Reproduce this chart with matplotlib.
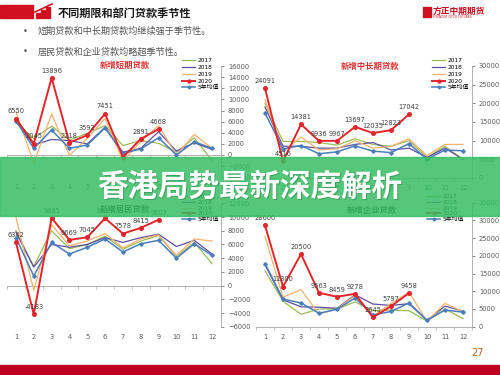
import matplotlib
matplotlib.use("Agg")
import matplotlib.pyplot as plt
from matplotlib.patches import Rectangle

plt.rcParams['font.family'] = ['DejaVu Sans', 'Noto Sans CJK SC']

W, H = 500, 375

months = list(range(1, 13))
series_names = ['2017', '2018', '2019', '2020', '5年均值']

# 新增短期贷款
short_2017 = [5800, 3000, 5200, 2700, 3900, 5300, 1700, 2600, 2100, 500, 3100, -1000]
short_2018 = [6200, 1800, 2800, 2600, 2000, 5000, 500, 1200, 4200, 700, 2200, 1000]
short_2019 = [7800, -1500, 7400, -100, 3000, 6600, -1100, 2400, 5300, 0, 3700, 1200]
short_2020 = [6550, 2045, 13896, 2218, 3592, 7451, -400, 2891, 4668]
short_avg = [6200, 1200, 4500, 1200, 1800, 4900, 300, 1100, 3100, 0, 2400, 1200]

# 新增中长期贷款
long_2017 = [20000, 9800, 9800, 9500, 8800, 10500, 9000, 8500, 10000, 5500, 8500, 5000]
long_2018 = [19000, 8500, 8500, 8000, 8000, 9000, 9500, 7500, 8000, 5500, 8000, 5000]
long_2019 = [21000, 7000, 11000, 7500, 7800, 10000, 8000, 8500, 10500, 6000, 9000, 9000]
long_2020 = [24091, 4516, 14381, 9936, 9967, 13697, 12035, 12823, 17042]
long_avg = [17400, 7800, 8700, 6500, 7000, 8600, 7200, 6800, 9200, 5000, 7500, 7300]

# 新增居民贷款
house_2017 = [8000, 2800, 8000, 5400, 6000, 7200, 5300, 6500, 7300, 4300, 6300, 3200]
house_2018 = [7800, 2700, 6000, 5600, 6000, 7000, 6300, 7000, 7500, 5700, 6600, 4600]
house_2019 = [10000, -700, 8900, 5800, 6500, 7600, 5500, 6800, 7400, 4400, 6800, 6500]
house_2020 = [6342, -4183, 9865, 6669, 7045, 9815, 7578, 8415, 9607]
house_avg = [7000, 1400, 6300, 4600, 5600, 6800, 4900, 6100, 6600, 4000, 6100, 4400]

# 新增企业贷款
corp_2017 = [15800, 7200, 3500, 5000, 5000, 7000, 4500, 4700, 4500, 1600, 5000, 2300]
corp_2018 = [17500, 7600, 5600, 5500, 5200, 9000, 6400, 6000, 6500, 1800, 5800, 4400]
corp_2019 = [25500, 8300, 10500, 3500, 5000, 8800, 3000, 6500, 9800, 1500, 6600, 4200]
corp_2020 = [28600, 11300, 20500, 9563, 8459, 9278, 2645, 5797, 9458]
corp_avg = [17800, 7800, 6700, 3800, 4900, 8100, 3300, 4300, 6700, 1800, 4700, 4100]

colors = ['#9BBB59', '#5E4FA2', '#F7B26E', '#E3262B', '#4A7EBB']


def px_rect(x0, y0, x1, y1):
    return [x0 / W, 1 - y1 / H, (x1 - x0) / W, (y1 - y0) / H]


def draw_chart(box, data, ylim, ystep, title, title_color, title_xy, legend_xy,
               label_skip=(), leg_space=0.3):
    ax = fig.add_axes(px_rect(*box))
    ax.set_facecolor('none')
    lines = []
    for i, vals in enumerate(data):
        x = months[:len(vals)]
        if i == 3:
            ln, = ax.plot(x, vals, color=colors[i], lw=1.4, marker='o', ms=2.6, zorder=5)
            for j, (xx, v) in enumerate(zip(x, vals)):
                if j in label_skip:
                    continue
                ax.annotate(str(v), (xx, v), xytext=(0, 3), textcoords='offset points',
                            ha='center', va='bottom', fontsize=4.8, color='#404040', zorder=6)
        elif i == 4:
            ln, = ax.plot(x, vals, color=colors[i], lw=1.1, marker='D', ms=1.8, zorder=4)
        else:
            ln, = ax.plot(x, vals, color=colors[i], lw=0.9, zorder=3)
        lines.append(ln)

    ax.set_xlim(0.5, 12.5)
    ax.set_ylim(*ylim)
    ax.set_yticks(range(ylim[0], ylim[1] + 1, ystep))
    ax.yaxis.tick_right()
    ax.tick_params(axis='y', labelsize=4.8, colors='#595959', length=2, width=0.5, pad=3)
    for s in ['left', 'top']:
        ax.spines[s].set_visible(False)
    ax.spines['right'].set_color('#A6A6A6')
    ax.spines['right'].set_linewidth(0.6)
    ax.spines['bottom'].set_position(('data', 0))
    ax.spines['bottom'].set_color('#A6A6A6')
    ax.spines['bottom'].set_linewidth(0.6)
    ax.set_xticks([m + 0.5 for m in [0] + months])
    ax.set_xticklabels([])
    ax.tick_params(axis='x', length=2, width=0.5, colors='#A6A6A6', direction='out')

    sec = ax.secondary_xaxis('bottom')
    sec.set_xticks(months)
    sec.set_xticklabels([str(m) for m in months])
    sec.tick_params(length=0, labelsize=4.8, colors='#595959', pad=5)
    sec.spines['bottom'].set_visible(False)

    fig.text(title_xy[0] / W, 1 - title_xy[1] / H, title, color=title_color,
             fontsize=6, fontweight='bold', ha='center', va='center',
             family=['Noto Sans CJK SC'])
    ax.legend(lines, series_names, loc='upper left',
              bbox_to_anchor=(legend_xy[0] / W, 1 - legend_xy[1] / H),
              bbox_transform=fig.transFigure, frameon=False, fontsize=4.2,
              handlelength=2.3, handletextpad=0.4, labelspacing=leg_space,
              borderpad=0, borderaxespad=0, markerscale=0.8)
    return ax


fig = plt.figure(figsize=(W / 100, H / 100), dpi=100)

draw_chart((7, 66.2, 221, 177.2), [short_2017, short_2018, short_2019, short_2020, short_avg],
           (-4000, 16000), 2000, '新增短期贷款', '#E03030', (125, 65), (182, 58),
           label_skip=(6,))
draw_chart((256, 66, 472, 178), [long_2017, long_2018, long_2019, long_2020, long_avg],
           (0, 30000), 5000, '新增中长期贷款', '#E03030', (370, 66), (432, 58))
draw_chart((7, 203.3, 221, 326.8), [house_2017, house_2018, house_2019, house_2020, house_avg],
           (-6000, 12000), 2000, '新增居民贷款', '#2A2A2A', (125, 209), (182, 194),
           leg_space=0.12)
draw_chart((256, 202.7, 472, 326.7), [corp_2017, corp_2018, corp_2019, corp_2020, corp_avg],
           (0, 35000), 5000, '新增企业贷款', '#2A2A2A', (372, 210), (427, 194),
           leg_space=0.12)

# header
fig.add_artist(Rectangle((0, 1 - 18 / H), 33 / W, 13 / H, transform=fig.transFigure,
                         color='#D0101E', zorder=2))
for bx, bh in [(36, 5), (41, 8), (46, 11)]:
    fig.add_artist(Rectangle((bx / W, 1 - 18 / H), 3.5 / W, bh / H, transform=fig.transFigure,
                             color='#D0101E', zorder=2))
fig.add_artist(plt.Line2D([35 / W, 52 / W], [1 - 12 / H, 1 - 4 / H], transform=fig.transFigure,
                          color='#D0101E', lw=1.2, zorder=2))
fig.text(58 / W, 1 - 13 / H, '不同期限和部门贷款季节性', fontsize=8, fontweight='bold',
         color='#1A1A1A', ha='left', va='center', family=['Noto Sans CJK SC'])
fig.add_artist(Rectangle((423 / W, 1 - 17 / H), 8 / W, 10 / H, transform=fig.transFigure,
                         color='#D0101E', zorder=2))
fig.text(433 / W, 1 - 11 / H, '方正中期期货', fontsize=6.3, fontweight='bold',
         color='#D0101E', ha='left', va='center', family=['Noto Sans CJK SC'])
fig.text(433 / W, 1 - 17.5 / H, 'FOUNDER CIFCO FUTURES', fontsize=2.2,
         color='#D0101E', ha='left', va='center')

bullets = ['短期贷款和中长期贷款均继续强于季节性。', '居民贷款和企业贷款均略超季节性。']
for k, txt in enumerate(bullets):
    yy = 1 - (31 + 21 * k) / H
    fig.text(25 / W, yy, '•', fontsize=6, color='#555555', ha='center', va='center')
    fig.text(38 / W, yy, txt, fontsize=6.6, color='#555555', ha='left', va='center',
             family=['Noto Sans CJK SC'])

# footer
fig.add_artist(Rectangle((0, 0), 1, 10 / H, transform=fig.transFigure,
                         color='#C00020', zorder=2))
fig.text(477 / W, 1 - 353 / H, '27', fontsize=7, color='#C0622A', ha='center', va='center')

# green banner
fig.add_artist(Rectangle((0, 1 - 216 / H), 1, 59 / H, transform=fig.transFigure,
                         color='#36BE63', alpha=0.85, zorder=10))
fig.text(251 / W, 1 - 188 / H, '香港局势最新深度解析', fontsize=22, fontweight='bold',
         color='#2E7A48', ha='center', va='center', family=['Noto Sans CJK SC'],
         zorder=11, alpha=0.5)
fig.text(250 / W, 1 - 187 / H, '香港局势最新深度解析', fontsize=22, fontweight='bold',
         color='white', ha='center', va='center', family=['Noto Sans CJK SC'], zorder=12)

fig.savefig('out.png', dpi=100)
